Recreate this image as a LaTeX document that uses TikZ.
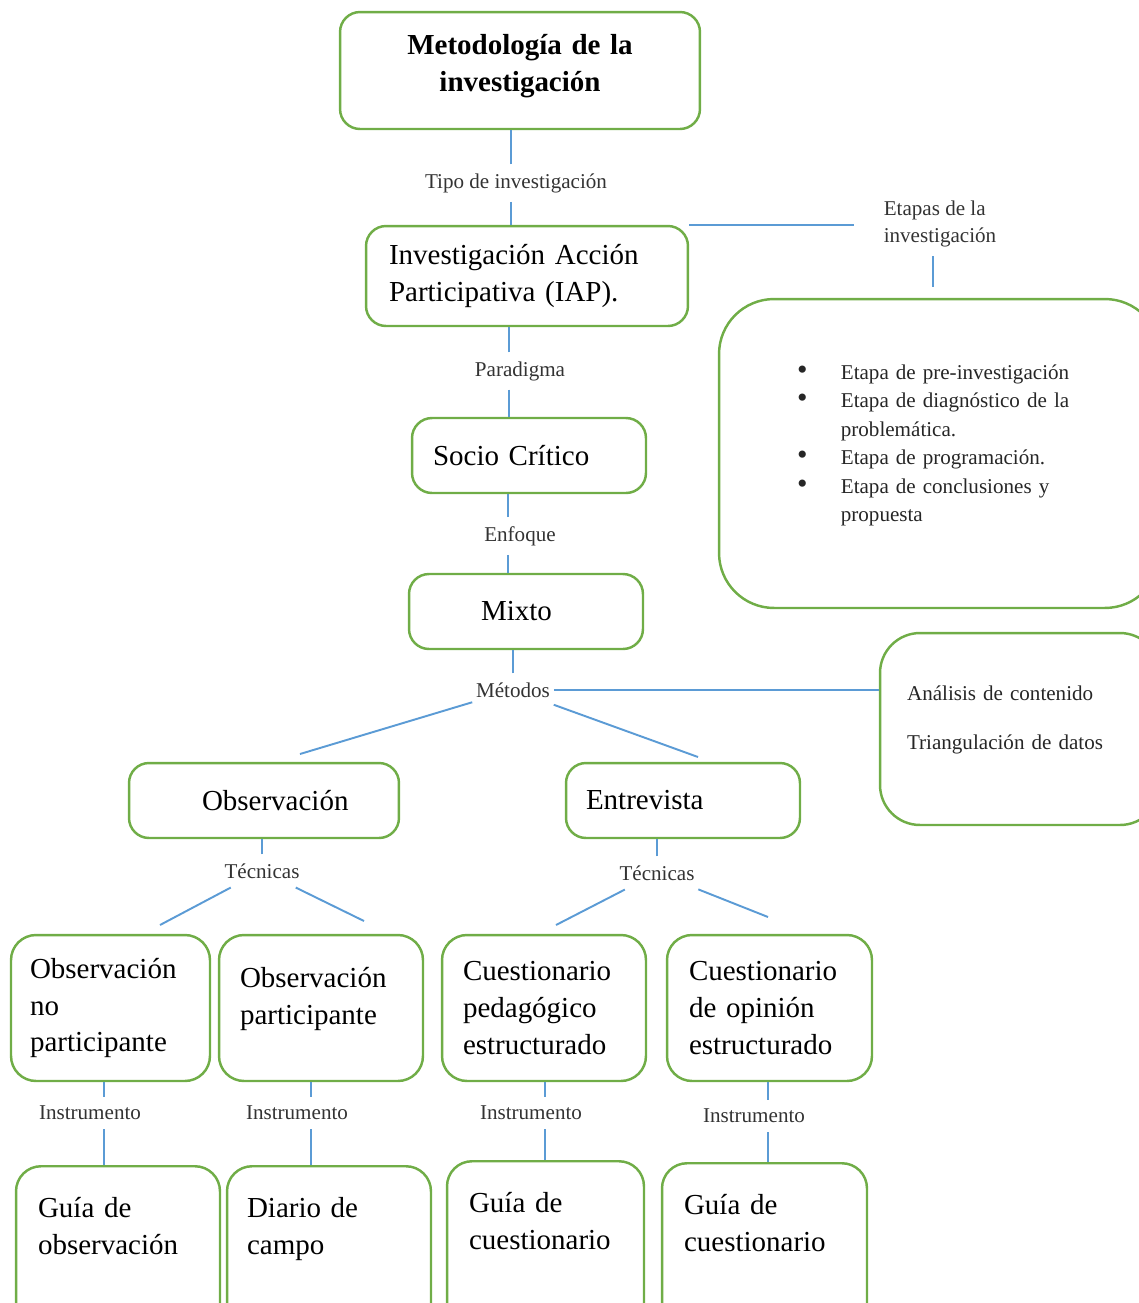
\documentclass[tikz,border=0pt]{standalone}
\usepackage{fontspec}
\setmainfont{Liberation Serif}

\definecolor{verde}{RGB}{112,173,71}
\definecolor{azul}{RGB}{91,155,213}

\newcommand{\vineta}{{\fontsize{17}{17}\selectfont\textbullet}}

\begin{document}
\begin{tikzpicture}[x=0.02cm, y=-0.02cm,
    caja/.style={draw=verde, line width=1.4pt, rounded corners=0.4cm, align=left,
      font=\fontsize{16.5}{21}\selectfont},
    tecnica/.style={caja, rounded corners=0.5cm, minimum height=2.92cm},
    instr/.style={caja, rounded corners=0.5cm, anchor=north, inner ysep=17pt,
      text height=12pt, text depth=56pt},
    etiq/.style={font=\fontsize{12}{14}\selectfont, text=black!80, inner xsep=2pt, inner ysep=5pt},
    enlace/.style={draw=azul, line width=1.1pt}]

  \useasboundingbox (0,0) rectangle (1139,1303);
  \clip (0,0) rectangle (1139,1303);

  % Eje central
  \node[caja, minimum width=7.2cm, minimum height=2.34cm, text width=6.4cm, align=center,
    text height=12pt, text depth=30pt,
    font=\fontsize{16.5}{21}\selectfont\bfseries] (titulo) at (520,70.5) {Metodología de la\\investigación};
  \node[caja, minimum width=6.44cm, minimum height=2cm, text width=5.52cm] (iap) at (527,276)
    {Investigación Acción\\Participativa (IAP).};
  \node[caja, minimum width=4.68cm, minimum height=1.5cm, text width=3.84cm] (socio) at (529,455.5) {Socio Crítico};
  \node[caja, minimum width=4.68cm, minimum height=1.5cm, text width=1.8cm] (mixto) at (526,611.5) {Mixto};

  % Cajas de la derecha
  \node[caja, rounded corners=1.1cm, minimum width=8.82cm, minimum height=6.18cm, text width=5.7cm,
    font=\fontsize{12}{16.2}\selectfont, text=black!85] (etapas) at (939.5,453.5)
    {\begin{tabular}{@{}l@{\hspace{19pt}}l@{}}
      \vineta & Etapa de pre-investigación\\
      \vineta & Etapa de diagnóstico de la\\
              & problemática.\\
      \vineta & Etapa de programación.\\
      \vineta & Etapa de conclusiones y\\
              & propuesta\\[10pt]
    \end{tabular}};
  \node[caja, rounded corners=0.8cm, minimum width=5.6cm, minimum height=3.84cm, text width=4.52cm,
    text height=10pt, text depth=43pt, font=\fontsize{12}{14}\selectfont, text=black!85] (analisis) at (1020,729)
    {Análisis de contenido\\[14pt]Triangulación de datos};

  % Metodos
  \node[caja, minimum width=5.4cm, minimum height=1.5cm, text width=2.48cm] (obs) at (264,800.5) {\mbox{Observación}};
  \node[caja, minimum width=4.68cm, minimum height=1.5cm, text width=3.88cm] (entre) at (683,800.5) {Entrevista};

  % Tecnicas
  \node[tecnica, minimum width=3.98cm, text width=3.22cm] (obsnp) at (110.5,1008) {Observación\\no\\participante};
  \node[tecnica, minimum width=4.08cm, text width=3.24cm, text height=12pt, text depth=35pt] (obsp) at (321,1008)
    {Observación\\participante};
  \node[tecnica, minimum width=4.08cm, text width=3.24cm] (cuped) at (544,1008) {Cuestionario\\pedagógico\\estructurado};
  \node[tecnica, minimum width=4.1cm, text width=3.22cm] (cuop) at (769.5,1008) {Cuestionario\\de opinión\\estructurado};

  % Instrumentos
  \node[instr, minimum width=4.08cm, text width=3.2cm] (gobs) at (118,1165) {Guía de\\observación};
  \node[instr, minimum width=4.08cm, text width=3.28cm] (diario) at (329,1165) {Diario de\\campo};
  \node[instr, minimum width=3.94cm, text width=3.06cm] (gcuesa) at (545.5,1160) {Guía de\\cuestionario};
  \node[instr, minimum width=4.1cm, text width=3.22cm] (gcuesb) at (764.5,1162) {Guía de\\cuestionario};

  % Etiquetas
  \node[etiq] (tipo) at (516,183) {Tipo de investigación};
  \node[etiq] (para) at (520,371) {Paradigma};
  \node[etiq] (enfo) at (520,536) {Enfoque};
  \node[etiq] (meto) at (513,690) {Métodos};
  \node[etiq, align=left, font=\fontsize{12}{15.3}\selectfont] (etaplbl) at (940,224) {Etapas de la\\investigación};
  \node[etiq] (teca) at (262,871) {Técnicas};
  \node[etiq] (tecb) at (657,873) {Técnicas};
  \node[etiq] (insa) at (90,1113) {Instrumento};
  \node[etiq] (insb) at (297,1113) {Instrumento};
  \node[etiq] (insc) at (531,1113) {Instrumento};
  \node[etiq] (insd) at (754,1116) {Instrumento};

  \coordinate (mobs) at (300,754);
  \coordinate (ment) at (698,757);
  \coordinate (taa) at (160,925);
  \coordinate (tab) at (364,921);
  \coordinate (tba) at (556,925);
  \coordinate (tbb) at (768,917);

  % Conexiones
  \draw[enlace] ([xshift=-3pt]tipo.north) -- ([xshift=-3pt]tipo.north |- titulo.south);
  \draw[enlace] ([xshift=-3pt]tipo.south) -- ([xshift=-3pt]tipo.south |- iap.north);
  \draw[enlace] ([xshift=-6pt]para.north) -- ([xshift=-6pt]para.north |- iap.south);
  \draw[enlace] ([xshift=-6pt]para.south) -- ([xshift=-6pt]para.south |- socio.north);
  \draw[enlace] ([xshift=-7pt]enfo.north) -- ([xshift=-7pt]enfo.north |- socio.south);
  \draw[enlace] ([xshift=-7pt]enfo.south) -- ([xshift=-7pt]enfo.south |- mixto.north);
  \draw[enlace] (meto.north) -- (meto.north |- mixto.south);

  \draw[enlace] (iap.north east) -- ([xshift=-15pt]iap.north east -| etaplbl.west);
  \draw[enlace, shorten >=6pt] ([xshift=-4pt]etaplbl.south) -- ([xshift=-4pt]etaplbl.south |- etapas.north);

  \draw[enlace] (meto) -- (mobs);
  \draw[enlace] (meto) -- (ment);
  \draw[enlace] (meto.east) -- (meto.east -| analisis.west);

  \draw[enlace] (teca.north) -- (teca.north |- obs.south);
  \draw[enlace] (teca) -- (taa);
  \draw[enlace] (teca) -- (tab);
  \draw[enlace] (tecb.north) -- (tecb.north |- entre.south);
  \draw[enlace] (tecb) -- (tba);
  \draw[enlace] (tecb) -- (tbb);

  \draw[enlace] ([xshift=8pt]insa.north) -- ([xshift=8pt]insa.north |- obsnp.south);
  \draw[enlace] ([xshift=8pt]insa.south) -- ([xshift=8pt]insa.south |- gobs.north);
  \draw[enlace] ([xshift=8pt]insb.north) -- ([xshift=8pt]insb.north |- obsp.south);
  \draw[enlace] ([xshift=8pt]insb.south) -- ([xshift=8pt]insb.south |- diario.north);
  \draw[enlace] ([xshift=8pt]insc.north) -- ([xshift=8pt]insc.north |- cuped.south);
  \draw[enlace] ([xshift=8pt]insc.south) -- ([xshift=8pt]insc.south |- gcuesa.north);
  \draw[enlace] ([xshift=8pt]insd.north) -- ([xshift=8pt]insd.north |- cuop.south);
  \draw[enlace] ([xshift=8pt]insd.south) -- ([xshift=8pt]insd.south |- gcuesb.north);
\end{tikzpicture}
\end{document}
